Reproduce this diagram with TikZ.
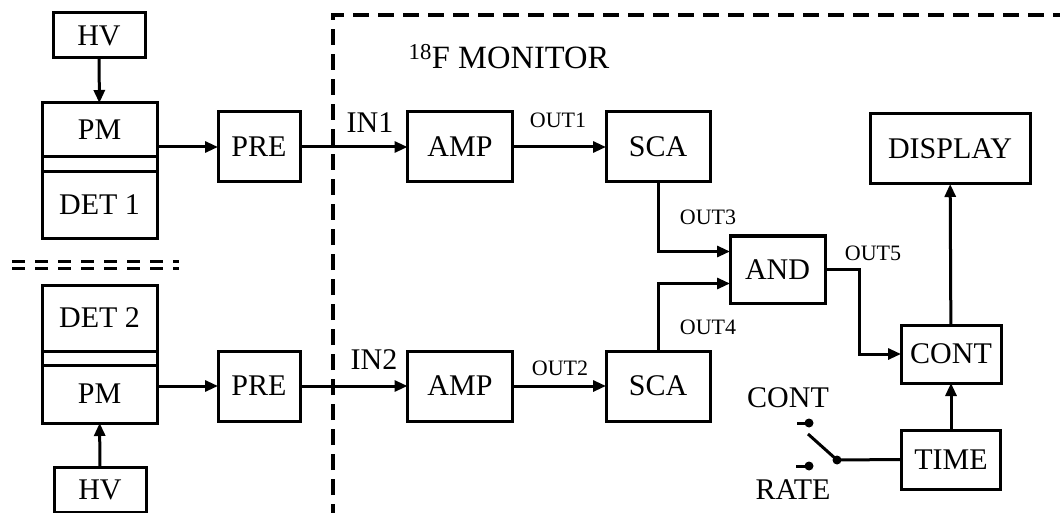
\documentclass[tikz,border=0pt]{standalone}
\usepackage{fontspec}
\setmainfont{Liberation Serif}
\usetikzlibrary{arrows.meta}

\tikzset{
  blk/.style={draw, line width=3pt, inner sep=0pt, outer sep=0pt, font=\fontsize{30}{32}\selectfont},
  wire/.style={line width=3pt},
  sig/.style={wire, -{Triangle[length=13pt,width=11pt]}},
  lbl/.style={inner sep=0pt, font=\fontsize{30}{32}\selectfont},
  outlbl/.style={inner sep=0pt, font=\fontsize{22}{24}\selectfont},
}

\begin{document}
\begin{tikzpicture}[x=1pt, y=-1pt]
  % pixel grid of the drawing, y running down
  \useasboundingbox (0,0) rectangle (1060,513);

  % detector 1, photomultiplier on top
  \node[blk, minimum width=115pt, minimum height=54pt] (pmA) at (99.5,130) {PM};
  \node[blk, minimum width=115pt, minimum height=66pt] (detA) at (99.5,205) {DET 1};
  \node[blk, minimum width=92pt, minimum height=45pt] (hvA) at (99,35.5) {HV};
  \draw[wire] (pmA.south west) rectangle (detA.north east);
  \draw[sig] (hvA) -- (pmA);

  % detector 2, photomultiplier below
  \node[blk, minimum width=115pt, minimum height=66pt] (detB) at (99.5,318) {DET 2};
  \node[blk, minimum width=115pt, minimum height=58pt] (pmB) at (99.5,394) {PM};
  \node[blk, minimum width=92pt, minimum height=45pt] (hvB) at (100,489.5) {HV};
  \draw[wire] (detB.south west) rectangle (pmB.north east);
  \draw[sig] (hvB) -- (pmB);

  % separation between the two heads
  \foreach \y in {261, 268} {
    \draw[line width=3pt, dash pattern=on 13pt off 10pt] (12,\y) -- (179,\y);
  }

  % monitor boundary
  \draw[line width=3.2pt, dash pattern=on 16pt off 9pt] (333,520) -- (333,15) -- (1070,15);
  \node[inner sep=0pt, font=\fontsize{32.5}{34}\selectfont] (title) at (509,57) {\textsuperscript{18}F MONITOR};

  % the two channels: PRE -> AMP -> SCA
  \foreach \r/\y/\n in {A/147/1, B/386/2} {
    \node[blk, minimum width=82pt, minimum height=70pt] (pre\r) at (259,\y) {PRE};
    \node[blk, minimum width=105pt, minimum height=70pt] (amp\r) at (460,\y) {AMP};
    \node[blk, minimum width=104pt, minimum height=70pt] (sca\r) at (658,\y) {SCA};
    \draw[sig] (pm\r.east |- pre\r) -- (pre\r);
    \draw[sig] (pre\r) -- (amp\r);
    \draw[sig] (amp\r) -- (sca\r);
  }
  \node[lbl] (inA) at (370,123) {IN1};
  \node[lbl] (inB) at (374,360) {IN2};
  \node[outlbl] (outA) at (558,120) {OUT1};
  \node[outlbl] (outB) at (560,368) {OUT2};

  % coincidence and counting
  \node[blk, minimum width=95pt, minimum height=67pt] (andG) at (777.5,269.5) {AND};
  \node[blk, minimum width=160pt, minimum height=70pt] (disp) at (950,149) {DISPLAY};
  \node[blk, minimum width=100pt, minimum height=58pt] (cntr) at (951,354) {CONT};
  \node[blk, minimum width=99pt, minimum height=59pt] (timer) at (951,459.5) {TIME};

  \draw[sig] (scaA.south) |- ([yshift=18pt]andG.west);
  \draw[sig] (scaB.north) |- ([yshift=-14pt]andG.west);
  \draw[sig] (andG.east) -- ++(34,0) |- (cntr.west);
  \draw[sig] (cntr) -- (disp);
  \draw[sig] (timer) -- (cntr);
  \node[outlbl] (outC) at (708,217) {OUT3};
  \node[outlbl] (outD) at (708,327) {OUT4};
  \node[outlbl] (outE) at (873,253) {OUT5};

  % mode switch
  \coordinate (pivot) at (837,460);
  \coordinate (kCont) at (809,423);
  \coordinate (kRate) at (809,466);
  \coordinate (blade) at (808,434);
  \draw[wire] (kCont) -- ++(-12,0);
  \draw[wire] (kRate) -- ++(-13,0);
  \draw[wire] (pivot) -- (blade);
  \draw[wire] (pivot) -- (timer.west);
  \foreach \c in {pivot, kCont, kRate} {
    \fill (\c) circle (4.5pt);
  }
  \node[lbl] (swCont) at (788,398) {CONT};
  \node[lbl] (swRate) at (793,490) {RATE};
\end{tikzpicture}
\end{document}
